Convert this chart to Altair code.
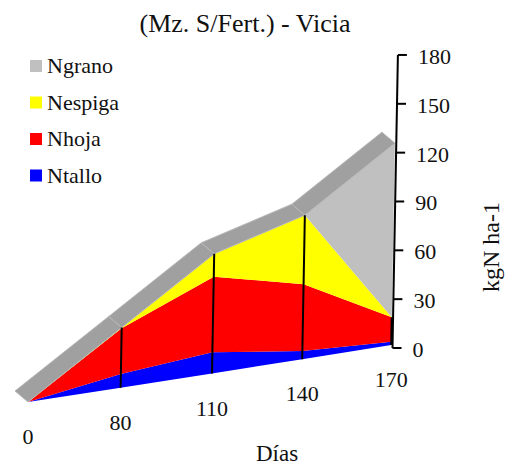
import altair as alt
import pandas as pd

# Data
dias = ["0", "80", "110", "140", "170"]
ntallo = [0, 8.5, 13, 5, 2]
nhoja = [0, 28, 46.5, 41, 15]
nespiga = [0, 0.5, 14, 42.5, 0]
ngrano = [0, 0, 0, 0, 107]
series = ["Ngrano", "Nespiga", "Nhoja", "Ntallo"]
colors = ["#C0C0C0", "#FFFF00", "#FF0000", "#0000FF"]
y_ticks = [0, 30, 60, 90, 120, 150, 180]

# Oblique projection of the original 3-D chart
X0, Y0, DX, DY = 28.0, 402.0, 92.6, 14.25    # floor start and step per category
PERSP = 0.6                                  # foreshortening of the floor steps
UX, UY = 0.03, 1.628                         # screen shift per kgN
AX, AY = 392.5, 348.0                        # value-axis origin
DEPTH = (-13.0, -11.0)                       # depth of the top band
FONT = "Liberation Serif"


def proj(i, v):
    return X0 + DX * i - PERSP * i * (i - 1) + UX * v, Y0 - DY * i - UY * v


def axis_pt(v):
    return AX + UX * v, AY - UY * v


n = len(dias)
stack = {"Ntallo": ntallo, "Nhoja": nhoja, "Nespiga": nespiga, "Ngrano": ngrano}
cum = [0.0] * n
rows = []
for s in reversed(series):
    low = list(cum)
    cum = [a + b for a, b in zip(cum, stack[s])]
    pts = [proj(i, low[i]) for i in range(n)] + [proj(i, cum[i]) for i in reversed(range(n))]
    for k, (px, py) in enumerate(pts):
        rows.append({"serie": s, "px": px, "py": py, "k": k})
poly = pd.DataFrame(rows)

band = []
for i in range(n - 1):
    a = proj(i, cum[i])
    b = proj(i + 1, cum[i + 1])
    quad = [a, b, (b[0] + DEPTH[0], b[1] + DEPTH[1]), (a[0] + DEPTH[0], a[1] + DEPTH[1]), a]
    for k, (px, py) in enumerate(quad):
        band.append({"seg": i, "px": px, "py": py, "k": k})
band = pd.DataFrame(band)

lines = []
for i in range(1, n):
    h = ntallo[i] + nhoja[i] + nespiga[i]
    for k, v in enumerate([0, h]):
        px, py = proj(i, v)
        lines.append({"id": f"s{i}", "px": px, "py": py, "k": k})
for k, v in enumerate([0, 180]):
    px, py = axis_pt(v)
    lines.append({"id": "axis", "px": px, "py": py, "k": k})
for v in y_ticks:
    px, py = axis_pt(v)
    lines.append({"id": f"t{v}", "px": px, "py": py, "k": 0})
    lines.append({"id": f"t{v}", "px": px + 9, "py": py, "k": 1})
lines = pd.DataFrame(lines)

xs = alt.Scale(domain=[8, 509], nice=False, zero=False)
ys = alt.Scale(domain=[465, 8], nice=False, zero=False)
X = alt.X("px:Q", scale=xs, axis=None)
Y = alt.Y("py:Q", scale=ys, axis=None)

areas = alt.Chart(poly).mark_line(strokeWidth=0, clip=False).encode(
    x=X, y=Y, order="k:Q",
    fill=alt.Fill(
        "serie:N",
        scale=alt.Scale(domain=series, range=colors),
        legend=alt.Legend(
            orient="none", legendX=17, legendY=47, title=None,
            symbolType="square", symbolSize=144, symbolStrokeWidth=0,
            labelFont=FONT, labelFontSize=22, labelColor="#111111",
            labelOffset=0, rowPadding=14.5, symbolOpacity=1,
        ),
    ),
)
band_l = alt.Chart(band).mark_line(
    fill="#A0A0A0", stroke="#B8B8B8", strokeWidth=1
).encode(x=X, y=Y, order="k:Q", detail="seg:N")
rule_l = alt.Chart(lines).mark_line(color="#000000", strokeWidth=2).encode(
    x=X, y=Y, order="k:Q", detail="id:N"
)

xl = pd.DataFrame({"t": dias, "px": [proj(i, 0)[0] for i in range(n)],
                   "py": [proj(i, 0)[1] + 35 for i in range(n)]})
yl = pd.DataFrame({"t": [str(v) for v in y_ticks],
                   "px": [axis_pt(v)[0] + 20 for v in y_ticks],
                   "py": [axis_pt(v)[1] + 2 for v in y_ticks]})
xt = alt.Chart(xl).mark_text(font=FONT, fontSize=22, color="#111111", baseline="middle").encode(x=X, y=Y, text="t:N")
yt = alt.Chart(yl).mark_text(font=FONT, fontSize=22, color="#111111", align="left", baseline="middle").encode(x=X, y=Y, text="t:N")


def label(text, px, py, size, angle=0):
    d = pd.DataFrame({"t": [text], "px": [px], "py": [py]})
    return alt.Chart(d).mark_text(font=FONT, fontSize=size, color="#111111", baseline="middle", angle=angle).encode(x=X, y=Y, text="t:N")


chart = alt.layer(
    areas, band_l, rule_l, xt, yt,
    label("(Mz. S/Fert.) - Vicia", 245, 24, 26),
    label("Días", 277, 454, 23),
    label("kgN ha-1", 492, 247, 24, 270),
).properties(
    width=501, height=457, padding=0, autosize=alt.AutoSizeParams(type="none"),
    background="#FFFFFF",
).configure_view(stroke=None)

chart.save("out.html", embed_options={"renderer": "svg", "actions": False})
